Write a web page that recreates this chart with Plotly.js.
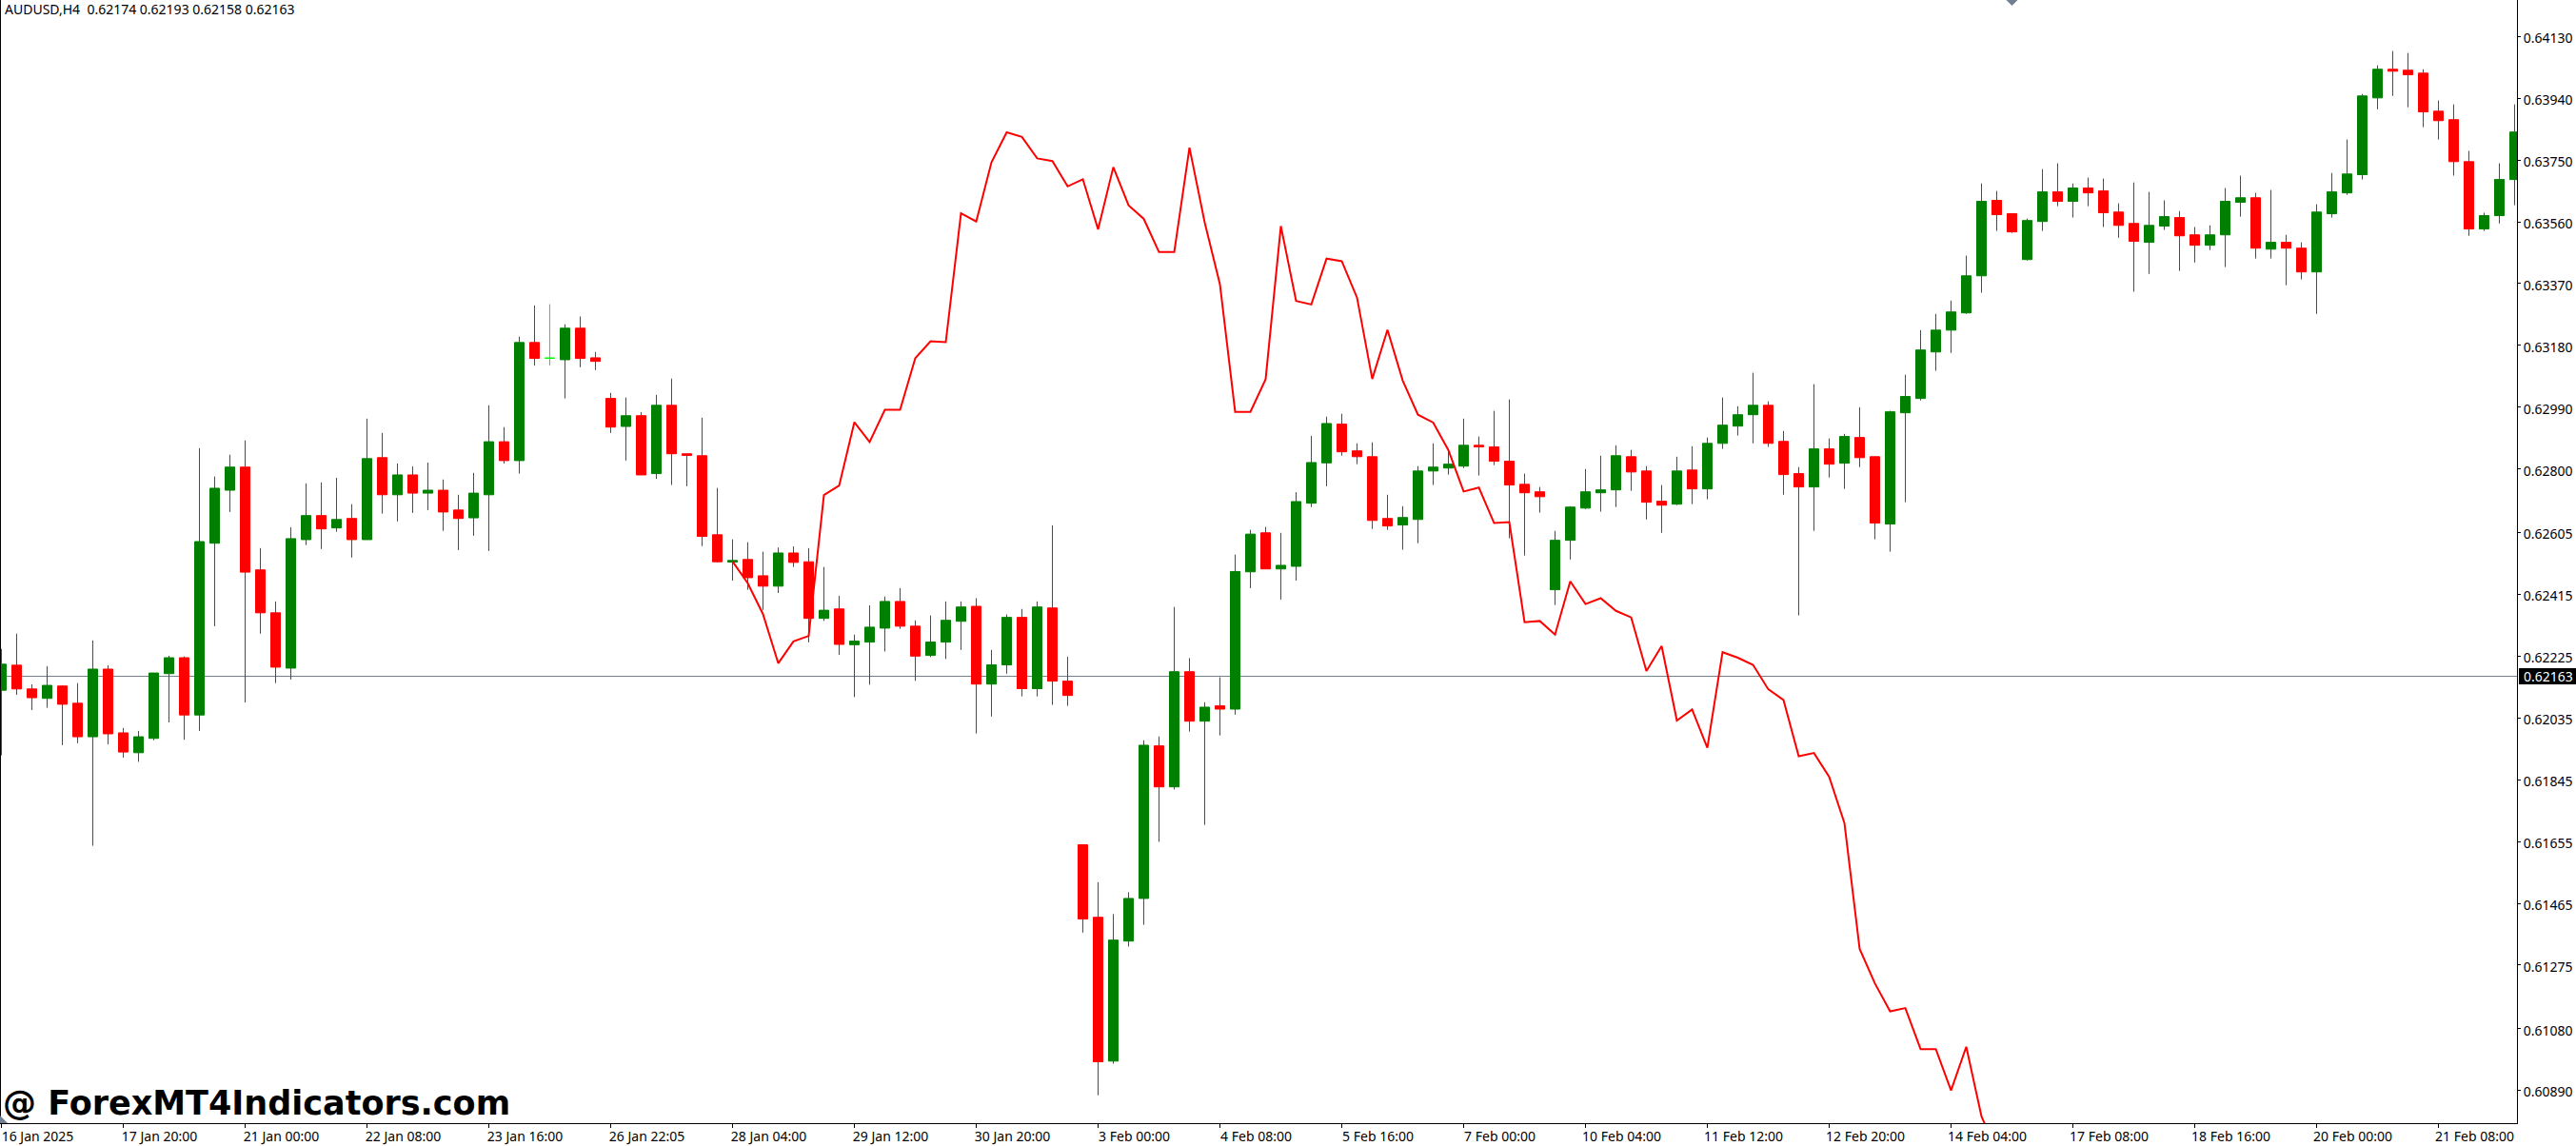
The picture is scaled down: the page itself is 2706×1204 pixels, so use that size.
<!DOCTYPE html>
<html><head><meta charset="utf-8">
<script src="https://cdn.plot.ly/plotly-3.0.1.min.js"></script>
<style>html,body{margin:0;padding:0;background:#fff;overflow:hidden}#chart{width:2706px;height:1204px}</style>
</head><body><div id="chart"></div>
<script>
const opens=[.62120,.62197,.62124,.62095,.62133,.62080,.61977,.62185,.61989,.61928,.61972,.62171,.62220,.62044,.62572,.62735,.62806,.62490,.62358,.62188,.62583,.62657,.62619,.62648,.62583,.62835,.62721,.62782,.62726,.62735,.62674,.62650,.62721,.62884,.62826,.63189,.63141,.63136,.63233,.63142,.63017,.62931,.62964,.62786,.62996,.62847,.62841,.62598,.62514,.62522,.62472,.62440,.62542,.62515,.62341,.62370,.62260,.62268,.62311,.62393,.62317,.62227,.62268,.62332,.62378,.62139,.62198,.62344,.62125,.62373,.62148,.61645,.61422,.60980,.61349,.61480,.61949,.61823,.62177,.62025,.62072,.62062,.62484,.62604,.62493,.62501,.62695,.62819,.62938,.62856,.62838,.62648,.62628,.62645,.62794,.62803,.62809,.62873,.62868,.62824,.62753,.62730,.62429,.62581,.62680,.62727,.62736,.62838,.62794,.62701,.62692,.62797,.62739,.62879,.62932,.62967,.62996,.62885,.62786,.62745,.62862,.62818,.62897,.62838,.62631,.62973,.63017,.63160,.63227,.63280,.63394,.63626,.63585,.63444,.63561,.63652,.63623,.63664,.63655,.63590,.63555,.63497,.63547,.63573,.63520,.63488,.63520,.63620,.63634,.63476,.63497,.63479,.63406,.63585,.63649,.63705,.63941,.64029,.64026,.64017,.63900,.63874,.63745,.63538,.63579,.63690];
const highs=[.62247,.62294,.62138,.62194,.62135,.62142,.62273,.62197,.62004,.61995,.62173,.62226,.62224,.62864,.62777,.62844,.62888,.62557,.62393,.62621,.62756,.62759,.62773,.62692,.62955,.62911,.62817,.62808,.62820,.62768,.62721,.62788,.62996,.62929,.63207,.63303,.63307,.63245,.63269,.63160,.63034,.63020,.62975,.63028,.63078,.62847,.62958,.62742,.62584,.62575,.62546,.62559,.62562,.62557,.62499,.62410,.62291,.62381,.62408,.62434,.62335,.62350,.62393,.62393,.62403,.62244,.62353,.62370,.62393,.62627,.62223,.61645,.61530,.61432,.61499,.61966,.61978,.62376,.62219,.62083,.62160,.62537,.62613,.62622,.62604,.62729,.62902,.62961,.62970,.62879,.62882,.62721,.62686,.62809,.62879,.62858,.62955,.62900,.62979,.63014,.62786,.62745,.62610,.62686,.62800,.62841,.62873,.62859,.62809,.62751,.62838,.62870,.62897,.63020,.62993,.63096,.63008,.62917,.62806,.63061,.62894,.62908,.62990,.62838,.62979,.63090,.63227,.63277,.63318,.63456,.63678,.63655,.63585,.63570,.63722,.63740,.63678,.63696,.63693,.63617,.63681,.63652,.63626,.63593,.63544,.63549,.63664,.63702,.63649,.63658,.63520,.63497,.63614,.63710,.63813,.63953,.64041,.64085,.64079,.64029,.63933,.63921,.63778,.63588,.63740,.63921];
const lows=[.61920,.62106,.62059,.62066,.61951,.61957,.61642,.61954,.61913,.61900,.61966,.62021,.61968,.61995,.62317,.62668,.62082,.62294,.62142,.62153,.62566,.62554,.62607,.62528,.62583,.62663,.62639,.62665,.62674,.62610,.62551,.62595,.62548,.62817,.62786,.63118,.63118,.63017,.63113,.63104,.62911,.62826,.62782,.62770,.62751,.62747,.62563,.62513,.62457,.62429,.62367,.62419,.62499,.62267,.62333,.62229,.62099,.62137,.62239,.62309,.62149,.62222,.62216,.62244,.61987,.62039,.62171,.62101,.62101,.62075,.62072,.61375,.60875,.60972,.61332,.61399,.61654,.61815,.61993,.61706,.61981,.62045,.62434,.62493,.62399,.62457,.62683,.62747,.62841,.62815,.62616,.62613,.62552,.62572,.62751,.62783,.62803,.62780,.62812,.62587,.62534,.62666,.62382,.62522,.62677,.62669,.62683,.62733,.62645,.62604,.62689,.62692,.62707,.62862,.62903,.62879,.62868,.62721,.62350,.62610,.62774,.62739,.62806,.62584,.62546,.62698,.63011,.63102,.63157,.63277,.63342,.63532,.63526,.63441,.63532,.63608,.63573,.63608,.63544,.63511,.63345,.63400,.63535,.63409,.63435,.63473,.63421,.63576,.63447,.63447,.63365,.63383,.63277,.63573,.63643,.63690,.63906,.63947,.63912,.63851,.63813,.63702,.63517,.63532,.63555,.63611];
const closes=[.62200,.62124,.62097,.62135,.62077,.61977,.62185,.61986,.61930,.61977,.62173,.62220,.62044,.62577,.62741,.62806,.62483,.62358,.62191,.62586,.62657,.62616,.62645,.62583,.62832,.62721,.62782,.62726,.62735,.62668,.62648,.62726,.62884,.62826,.63189,.63140,.63141,.63233,.63140,.63131,.62929,.62964,.62782,.62996,.62847,.62842,.62593,.62515,.62519,.62466,.62440,.62542,.62513,.62341,.62366,.62261,.62271,.62314,.62393,.62317,.62225,.62268,.62335,.62376,.62139,.62198,.62344,.62125,.62376,.62148,.62104,.61417,.60978,.61352,.61480,.61951,.61823,.62177,.62025,.62068,.62062,.62485,.62600,.62493,.62504,.62700,.62820,.62940,.62853,.62838,.62642,.62625,.62651,.62794,.62806,.62815,.62873,.62868,.62824,.62751,.62727,.62715,.62581,.62683,.62730,.62736,.62841,.62791,.62698,.62689,.62794,.62739,.62879,.62935,.62967,.62996,.62879,.62783,.62745,.62862,.62815,.62900,.62835,.62634,.62976,.63023,.63166,.63227,.63283,.63394,.63623,.63582,.63529,.63564,.63652,.63623,.63664,.63649,.63588,.63549,.63500,.63549,.63576,.63517,.63488,.63520,.63623,.63634,.63479,.63497,.63479,.63406,.63590,.63652,.63707,.63947,.64029,.64023,.64012,.63898,.63871,.63745,.63538,.63579,.63690,.63836];
const limeCandle=36;
const lineStart=48;
const lineValues=[.62516,.62449,.62354,.62203,.62270,.62287,.62720,.62749,.62944,.62883,.62982,.62982,.63141,.63193,.63190,.63586,.63561,.63743,.63835,.63821,.63755,.63747,.63669,.63691,.63537,.63728,.63611,.63569,.63467,.63467,.63788,.63558,.63368,.62976,.62976,.63076,.63547,.63317,.63306,.63447,.63439,.63327,.63077,.63228,.63072,.62967,.62943,.62858,.62731,.62743,.62634,.62637,.62329,.62333,.62291,.62455,.62385,.62403,.62364,.62344,.62179,.62256,.62027,.62061,.61943,.62237,.62220,.62198,.62123,.62090,.61917,.61927,.61854,.61712,.61325,.61219,.61133,.61143,.61017,.61017,.60890,.61024,.60810,.60702];
const yTickVals=[.64130,.63940,.63750,.63560,.63370,.63180,.62990,.62800,.62605,.62415,.62225,.62035,.61845,.61655,.61465,.61275,.61080,.60890];
const yTickText=['0.64130','0.63940','0.63750','0.63560','0.63370','0.63180','0.62990','0.62800','0.62605','0.62415','0.62225','0.62035','0.61845','0.61655','0.61465','0.61275','0.61080','0.60890'];
const xTickVals=[0,8,16,24,32,40,48,56,64,72,80,88,96,104,112,120,128,136,144,152,160];
const xTickText=['16 Jan 2025','17 Jan 20:00','21 Jan 00:00','22 Jan 08:00','23 Jan 16:00','26 Jan 22:05','28 Jan 04:00','29 Jan 12:00','30 Jan 20:00','3 Feb 00:00','4 Feb 08:00','5 Feb 16:00','7 Feb 00:00','10 Feb 04:00','11 Feb 12:00','12 Feb 20:00','14 Feb 04:00','17 Feb 08:00','18 Feb 16:00','20 Feb 00:00','21 Feb 08:00'];
const lastPrice=0.62163;
const headerText='AUDUSD,H4  0.62174 0.62193 0.62158 0.62163';
const watermarkText='@ ForexMT4Indicators.com';

const FONT='"Noto Sans", sans-serif';
const idx=opens.map((_,i)=>i);
const keep=i=>i!==limeCandle;
const pick=a=>idx.filter(keep).map(i=>a[i]);
const candles={type:'candlestick',x:idx.filter(keep),open:pick(opens),high:pick(highs),low:pick(lows),close:pick(closes),
  increasing:{line:{color:'#008000',width:1},fillcolor:'#008000'},
  decreasing:{line:{color:'#ff0000',width:1},fillcolor:'#ff0000'},
  whiskerwidth:0,hoverinfo:'skip',showlegend:false};
const lime={type:'candlestick',x:[limeCandle],open:[opens[limeCandle]],high:[highs[limeCandle]],low:[lows[limeCandle]],close:[closes[limeCandle]],
  increasing:{line:{color:'#00ff00',width:1},fillcolor:'#00ff00'},
  decreasing:{line:{color:'#00ff00',width:1},fillcolor:'#00ff00'},
  whiskerwidth:0,hoverinfo:'skip',showlegend:false};
const line={type:'scatter',mode:'lines',x:lineValues.map((_,i)=>lineStart+i),y:lineValues,line:{color:'#ff0000',width:2,shape:'linear'},hoverinfo:'skip',showlegend:false};

const layout={width:2706,height:1204,margin:{l:0,r:62,t:0,b:24,pad:0},paper_bgcolor:'#fff',plot_bgcolor:'#fff',
  boxmode:'overlay',boxgap:0.375,boxgroupgap:0,showlegend:false,dragmode:false,
  xaxis:{type:'linear',range:[-0.09375,165.15625],rangeslider:{visible:false},showgrid:false,zeroline:false,showline:true,linecolor:'#000',linewidth:1,
    tickmode:'array',tickvals:xTickVals,ticktext:xTickText,ticks:'outside',ticklen:4,tickcolor:'#000',tickwidth:1,ticklabelshift:38,ticklabelstandoff:-3,tickangle:0,
    tickfont:{family:FONT,size:14,color:'#000'}},
  yaxis:{side:'right',range:[0.607892,0.642419],showgrid:false,zeroline:false,showline:true,linecolor:'#000',linewidth:1,
    tickmode:'array',tickvals:yTickVals,ticktext:yTickText,ticks:'outside',ticklen:3,tickcolor:'#000',tickwidth:1,ticklabelshift:2,
    tickfont:{family:FONT,size:14,color:'#000'}},
  shapes:[
    {type:'line',layer:'below',xref:'paper',x0:0,x1:1,yref:'y',y0:lastPrice,y1:lastPrice,line:{color:'#708090',width:1}},
    {type:'line',layer:'above',xref:'paper',x0:0,x1:0,yref:'paper',y0:0,y1:1,line:{color:'#000',width:2}},
    {type:'rect',layer:'above',xref:'paper',xsizemode:'pixel',xanchor:1,x0:2,x1:62,yref:'y',ysizemode:'pixel',yanchor:lastPrice,y0:-8.5,y1:8.5,fillcolor:'#000',line:{width:0}},
    {type:'path',layer:'above',xref:'x',xsizemode:'pixel',xanchor:132,yref:'paper',ysizemode:'pixel',yanchor:1,path:'M-6,0 L6,0 L0,-6 Z',fillcolor:'#708090',line:{width:0}},
    {type:'path',layer:'above',xref:'paper',xsizemode:'pixel',xanchor:0,yref:'paper',ysizemode:'pixel',yanchor:0,path:'M0,0 L8,0 L0,8 Z',fillcolor:'#708090',line:{width:0}}
  ],
  annotations:[
    {xref:'paper',yref:'paper',x:0,y:1,xanchor:'left',yanchor:'top',xshift:4,yshift:1,showarrow:false,align:'left',text:headerText,font:{family:FONT,size:14,color:'#000'},borderpad:0},
    {xref:'paper',yref:'paper',x:0,y:0,xanchor:'left',yanchor:'bottom',xshift:2,yshift:0,showarrow:false,align:'left',text:'<b>'+watermarkText+'</b>',font:{family:'"DejaVu Sans", sans-serif',size:35,color:'#000'},borderpad:0},
    {xref:'paper',yref:'y',x:1,y:lastPrice,xanchor:'left',yanchor:'middle',xshift:6,showarrow:false,text:lastPrice.toFixed(5),font:{family:FONT,size:14,color:'#fff'},borderpad:0}
  ]};
Plotly.newPlot('chart',[candles,lime,line],layout,{displayModeBar:false,staticPlot:true});
</script></body></html>
